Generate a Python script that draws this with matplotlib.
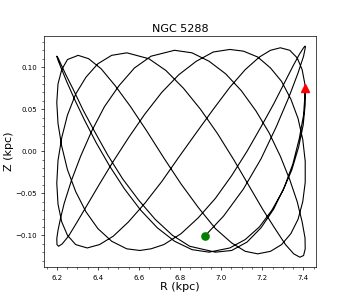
import matplotlib
matplotlib.use("Agg")
import matplotlib.pyplot as plt

# orbit path in the meridional plane (start at the green dot)
orbit_R = [
    6.920, 7.012, 7.108, 7.194, 7.268, 7.329, 7.374, 7.401, 7.410, 7.408,
    7.401, 7.380, 7.349, 7.307, 7.255, 7.194, 7.126, 7.051, 6.972, 6.889, 6.805, 6.721, 6.659, 6.604,
    6.540, 6.467, 6.400, 6.342, 6.292, 6.252, 6.224, 6.206, 6.200, 6.206, 6.224, 6.252, 6.304,
    6.355, 6.416, 6.484, 6.559, 6.638, 6.721, 6.805, 6.889, 6.972, 7.051, 7.117, 7.178,
    7.240, 7.294, 7.339, 7.374, 7.397, 7.409, 7.409, 7.397, 7.374, 7.339, 7.294, 7.240, 7.178, 7.108, 7.042,
    6.962, 6.879, 6.794, 6.711, 6.628, 6.549, 6.475, 6.408, 6.348, 6.297, 6.257, 6.227, 6.209,
    6.201, 6.200, 6.206, 6.218, 6.236, 6.271, 6.316, 6.370, 6.432, 6.503, 6.578, 6.659, 6.773,
    6.858, 6.941, 7.022, 7.098, 7.169, 7.233, 7.288, 7.334, 7.370, 7.394, 7.408, 7.409, 7.401, 7.383,
    7.353, 7.313, 7.262, 7.202, 7.135, 7.061, 6.982, 6.899, 6.816, 6.731, 6.648, 6.541,
    6.467, 6.400, 6.342, 6.292, 6.252, 6.224, 6.206, 6.200, 6.206, 6.224, 6.252, 6.292, 6.348,
    6.408, 6.475, 6.549, 6.628, 6.711, 6.794, 6.879, 6.962, 7.042, 7.117, 7.186, 7.240, 7.288,
    7.334, 7.370, 7.394, 7.408, 7.409, 7.399, 7.377, 7.344, 7.300, 7.247, 7.186, 7.117, 7.042, 6.941,
    6.858, 6.773, 6.689, 6.608, 6.530, 6.458, 6.392, 6.335, 6.286, 6.248, 6.221, 6.205, 6.200,
    6.206, 6.221, 6.244, 6.281, 6.328, 6.385, 6.449, 6.521, 6.598, 6.679, 6.763, 6.847, 6.972,
    7.051, 7.126, 7.194, 7.255, 7.307, 7.349, 7.380, 7.401, 7.410,
]
orbit_z = [
    -0.101, -0.077, -0.045, -0.009, 0.029, 0.064, 0.093, 0.113, 0.124, 0.125,
    0.123, 0.115, 0.101, 0.081, 0.056, 0.029, 0.000, -0.029, -0.056, -0.079, -0.098, -0.111, -0.116, -0.118,
    -0.116, -0.107, -0.092, -0.072, -0.048, -0.022, 0.006, 0.033, 0.058, 0.080, 0.097, 0.109, 0.114,
    0.110, 0.098, 0.078, 0.053, 0.024, -0.008, -0.039, -0.067, -0.092, -0.109, -0.119, -0.122,
    -0.119, -0.111, -0.098, -0.081, -0.060, -0.037, -0.012, 0.014, 0.039, 0.062, 0.083, 0.099, 0.112, 0.119, 0.121,
    0.118, 0.107, 0.091, 0.070, 0.044, 0.016, -0.012, -0.039, -0.064, -0.085, -0.101, -0.110, -0.113,
    -0.111, -0.104, -0.094, -0.080, -0.062, -0.035, -0.006, 0.024, 0.053, 0.078, 0.099, 0.113, 0.120,
    0.117, 0.107, 0.092, 0.072, 0.048, 0.022, -0.006, -0.034, -0.060, -0.084, -0.103, -0.116, -0.124, -0.126,
    -0.122, -0.111, -0.092, -0.069, -0.041, -0.010, 0.021, 0.050, 0.075, 0.096, 0.110, 0.117,
    0.114, 0.104, 0.088, 0.068, 0.043, 0.016, -0.011, -0.038, -0.063, -0.084, -0.100, -0.111, -0.115,
    -0.111, -0.101, -0.084, -0.062, -0.036, -0.007, 0.022, 0.050, 0.076, 0.097, 0.112, 0.120, 0.123,
    0.120, 0.111, 0.097, 0.079, 0.056, 0.031, 0.005, -0.022, -0.047, -0.070, -0.090, -0.105, -0.115, -0.120,
    -0.117, -0.107, -0.091, -0.070, -0.045, -0.018, 0.010, 0.037, 0.062, 0.083, 0.099, 0.109, 0.113,
    0.111, 0.103, 0.091, 0.073, 0.049, 0.023, -0.005, -0.033, -0.058, -0.081, -0.100, -0.113, -0.120,
    -0.118, -0.108, -0.091, -0.069, -0.043, -0.015, 0.015, 0.043, 0.075,
]

fig = plt.figure(figsize=(3.5, 3.0), dpi=100)
ax = fig.add_axes([0.127, 0.109, 0.775, 0.771])
ax.plot(orbit_R, orbit_z, color='black', lw=0.8)
# first and last point of the orbit
ax.plot(orbit_R[0], orbit_z[0], 'o', color='green', markersize=5.2)
ax.plot(orbit_R[-1], orbit_z[-1], '^', color='red', markersize=5.5)
ax.set_xlim(6.14, 7.46)
ax.set_ylim(-0.138, 0.137)
ax.set_xticks([6.2, 6.4, 6.6, 6.8, 7.0, 7.2, 7.4])
ax.set_yticks([-0.10, -0.05, 0.0, 0.05, 0.10])
ax.minorticks_on()
ax.tick_params(labelsize=5, length=2, width=0.5)
ax.tick_params(which='minor', length=1.2, width=0.4)
for s in ax.spines.values():
    s.set_linewidth(0.5)
ax.set_xlabel('R (kpc)', fontsize=8, labelpad=1)
ax.set_ylabel('Z (kpc)', fontsize=8, labelpad=1)
ax.set_title('NGC 5288', fontsize=8, pad=3)
fig.savefig('out.png', dpi=100)
